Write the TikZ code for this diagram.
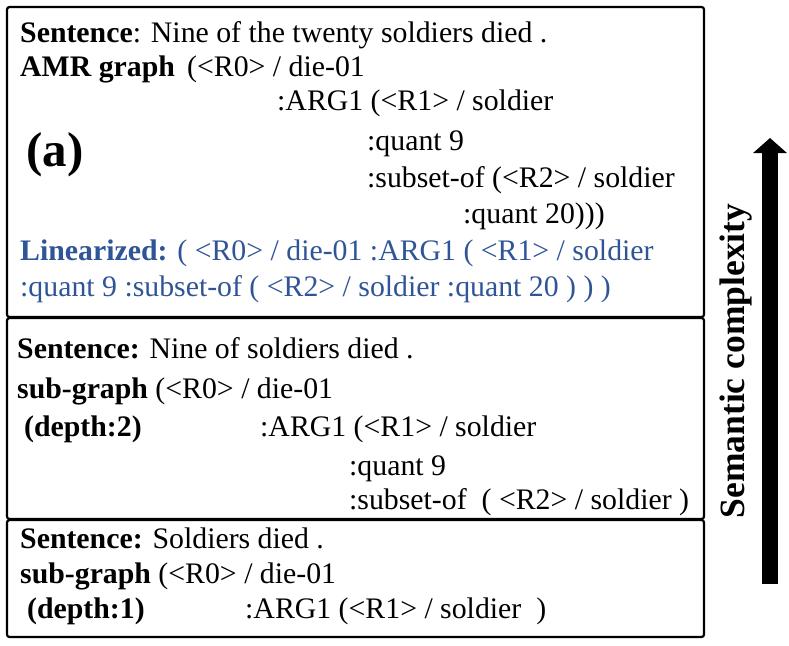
\documentclass[tikz,border=0pt]{standalone}
\usepackage{fontspec}
\setmainfont{Liberation Serif}
\usetikzlibrary{arrows.meta}
\definecolor{linblue}{RGB}{47,85,151}
\begin{document}
\begin{tikzpicture}[x=1pt,y=-1pt,
  txt/.style={anchor=base west, inner sep=0pt, font=\fontsize{29.8}{34}\selectfont},
  lin/.style={txt, text=linblue},
  panel/.style={draw, line width=2.2pt, rounded corners=2.5pt},
  bigarrow/.style={line width=16pt, -{Triangle[width=33pt,length=15pt]}}]
\useasboundingbox (0,0) rectangle (789,645);
% panels
\draw[panel] (7,7) rectangle (704,317);
\draw[panel] (7,318) rectangle (704,519);
\draw[panel] (7,520) rectangle (704,637);
% panel 1
\node[txt] (s1) at (20,42) {\textbf{Sentence}: Nine of the twenty soldiers died .};
\node[txt] (amr) at (20,76) {\textbf{AMR graph}};
\node[txt] (g1a) at (187,76) {(<R0> / die-01};
\node[txt] (g1b) at (277,110) {:ARG1 (<R1> / soldier};
\node[anchor=base west, inner sep=0pt, font=\fontsize{49}{50}\selectfont\bfseries] (a) at (26,166) {(a)};
\node[txt] (g1c) at (367,150) {:quant 9};
\node[txt] (g1d) at (367,187) {:subset-of (<R2> / soldier};
\node[txt] (g1e) at (463,223) {:quant 20)))};
\node[lin] (l1) at (20,260) {\textbf{Linearized:} ( <R0> / die-01 :ARG1 ( <R1> / soldier};
\node[lin] (l2) at (20,296) {:quant 9 :subset-of ( <R2> / soldier :quant 20 ) ) )};
% panel 2
\node[txt] (s2) at (17,358) {\textbf{Sentence:} Nine of soldiers died .};
\node[txt] (sg2) at (17,398) {\textbf{sub-graph} (<R0> / die-01};
\node[txt] (d2) at (24,436) {\textbf{(depth:2)}};
\node[txt] (g2b) at (260,436) {:ARG1 (<R1> / soldier};
\node[txt] (g2c) at (349,475) {:quant 9};
\node[txt] (g2d) at (349,509) {:subset-of\ \ ( <R2> / soldier )};
% panel 3
\node[txt] (s3) at (20,548) {\textbf{Sentence:} Soldiers died .};
\node[txt] (sg3) at (20,583) {\textbf{sub-graph} (<R0> / die-01};
\node[txt] (d3) at (27,618) {\textbf{(depth:1)}};
\node[txt] (g3b) at (245,618) {:ARG1 (<R1> / soldier\ \ )};
% arrow
\coordinate (abot) at (770,584);
\coordinate (atop) at (770,138);
\draw[bigarrow] (abot) -- (atop);
\node[rotate=90, inner sep=0pt, font=\fontsize{35.5}{38}\selectfont\bfseries] (sc) at (736,361) {Semantic complexity};
\end{tikzpicture}
\end{document}
